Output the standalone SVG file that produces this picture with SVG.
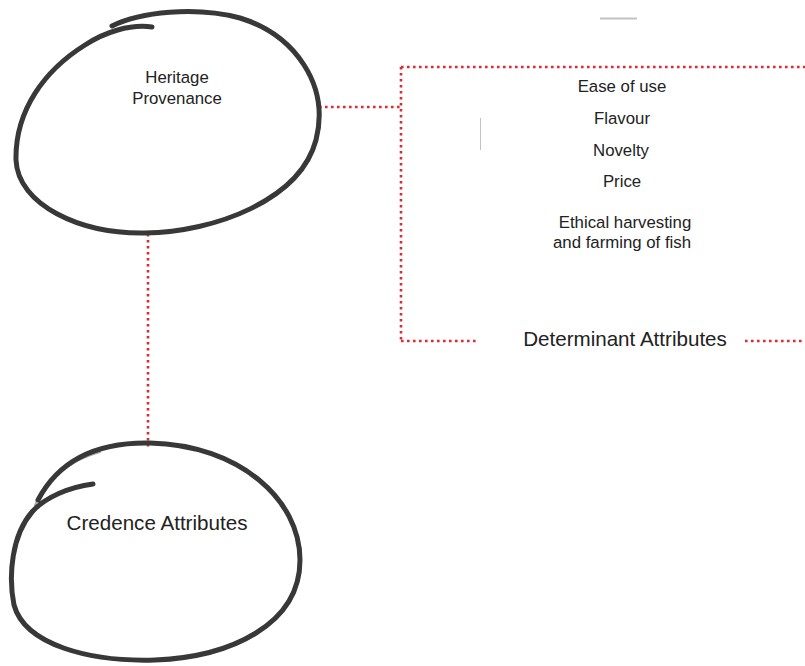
<svg xmlns="http://www.w3.org/2000/svg" width="805" height="666" viewBox="0 0 805 666">
<defs>
<filter id="soft" x="-5%" y="-5%" width="110%" height="110%"><feGaussianBlur stdDeviation="0.6"/></filter>
<style>
.ring{fill:none;stroke:#383838;stroke-width:5;stroke-linecap:round;stroke-linejoin:round;filter:url(#soft)}
.ring2{fill:none;stroke:#6a6a6a;stroke-width:2;stroke-linecap:round;opacity:0.6}
.dot{fill:none;stroke:#df2a33;stroke-width:2.6;stroke-dasharray:2.6 3.4}
.t{font-family:"Liberation Sans",Arial,sans-serif;fill:#222;text-anchor:middle}
.s{font-size:16.8px}
.l{font-size:20.6px}
.mark{stroke:#999;fill:none;opacity:0.6}
</style>
</defs>
<rect width="805" height="666" fill="#fff"/>
<g id="connectors">
<line class="dot" x1="319" y1="107" x2="401" y2="107"/>
<line class="dot" x1="401" y1="67" x2="805" y2="67"/>
<line class="dot" x1="401" y1="67" x2="401" y2="341"/>
<line class="dot" x1="401" y1="341" x2="478" y2="341"/>
<line class="dot" x1="745" y1="341" x2="805" y2="341"/>
<line class="dot" x1="148" y1="234" x2="148" y2="448"/>
</g>
<g id="heritage">
<path class="ring" d="M152,27 C130,24 105,32 85,45 C45,70 15,110 16,160 C18,205 80,234 145,233 C215,232 300,200 316,140 C330,85 295,35 240,18 C195,6 140,12 112,26"/>
<text class="t s" x="177" y="83">Heritage</text>
<text class="t s" x="177" y="104">Provenance</text>
</g>
<g id="credence">
<path class="ring2" d="M35,505 C45,480 70,460 100,452"/>
<path class="ring" d="M93,484 C70,487 45,497 32,512 C12,535 8,575 14,605 C25,645 90,662 155,660 C230,657 300,625 300,560 C300,500 240,445 150,443 C100,442 60,458 38,500"/>
<text class="t l" x="157" y="530">Credence Attributes</text>
</g>
<g id="determinant">
<text class="t s" x="622" y="92">Ease of use</text>
<text class="t s" x="622" y="124">Flavour</text>
<text class="t s" x="621" y="156">Novelty</text>
<text class="t s" x="622" y="187">Price</text>
<text class="t s" x="625" y="228">Ethical harvesting</text>
<text class="t s" x="622" y="248">and farming of fish</text>
<text class="t l" x="625" y="346">Determinant Attributes</text>
</g>
<line class="mark" x1="600" y1="18.5" x2="637" y2="18.5" stroke-width="2"/>
<line class="mark" x1="480.5" y1="118" x2="480.5" y2="150" stroke-width="1"/>
</svg>
